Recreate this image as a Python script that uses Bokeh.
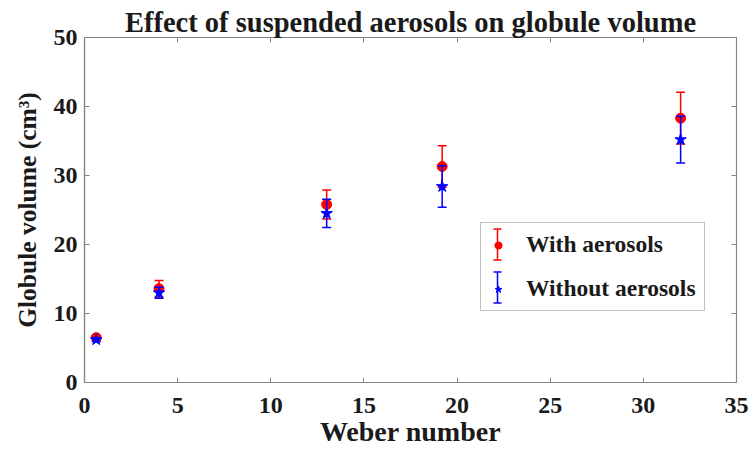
from bokeh.plotting import figure
from bokeh.models import (ColumnDataSource, Whisker, TeeHead, Legend, LegendItem, LinearAxis,
                          SingleIntervalTicker, Range1d, Arrow)
from bokeh.embed import file_html
from bokeh.resources import INLINE

# ---- data ----
weber = [0.63, 4.0, 13.0, 19.2, 32.0]
with_aerosols = [6.5, 13.6, 25.8, 31.3, 38.3]
with_err = [0.25, 1.2, 2.1, 3.0, 3.75]
without_aerosols = [6.2, 13.0, 24.5, 28.4, 35.2]
without_err = [0.25, 0.8, 2.05, 3.0, 3.4]
series_labels = ["With aerosols", "Without aerosols"]
title_text = "Effect of suspended aerosols on globule volume"
x_label = "Weber number"
y_label = "Globule volume (cm\u00b3)"

FONT = "Liberation Serif"
RED = "#ff0000"
BLUE = "#0000ff"
AXC = "#858585"
TXT = "#1a1a1a"

src_w = ColumnDataSource(dict(x=weber, y=with_aerosols,
                              lo=[v - e for v, e in zip(with_aerosols, with_err)],
                              hi=[v + e for v, e in zip(with_aerosols, with_err)]))
src_wo = ColumnDataSource(dict(x=weber, y=without_aerosols,
                               lo=[v - e for v, e in zip(without_aerosols, without_err)],
                               hi=[v + e for v, e in zip(without_aerosols, without_err)]))

p = figure(width=750, height=450, x_range=Range1d(0, 35), y_range=Range1d(0, 50),
           output_backend="svg", toolbar_location=None,
           min_border_left=84, min_border_right=14, min_border_top=37, min_border_bottom=68)
p.title.text = title_text
p.title.align = "center"
p.title.text_font = FONT
p.title.text_font_size = "28.5px"
p.title.text_font_style = "bold"
p.title.text_color = TXT
p.title.standoff = 0

p.xgrid.visible = False
p.ygrid.visible = False
p.outline_line_color = AXC
p.outline_line_width = 1.2
p.background_fill_color = "white"
p.border_fill_color = "white"

p.xaxis.ticker = SingleIntervalTicker(interval=5, num_minor_ticks=0)
p.yaxis.ticker = SingleIntervalTicker(interval=10, num_minor_ticks=0)
for ax in (p.xaxis[0], p.yaxis[0]):
    ax.axis_line_color = AXC
    ax.axis_line_width = 1.2
    ax.major_tick_line_color = AXC
    ax.major_tick_in = 5
    ax.major_tick_out = 0
    ax.minor_tick_line_color = None
    ax.major_label_text_font = FONT
    ax.major_label_text_font_size = "24px"
    ax.major_label_text_font_style = "bold"
    ax.major_label_text_color = TXT
    ax.axis_label_text_font = FONT
    ax.axis_label_text_font_style = "bold"
    ax.axis_label_text_color = TXT
p.xaxis.axis_label = x_label
p.yaxis.axis_label = y_label
p.xaxis.axis_label_text_font_size = "28px"
p.yaxis.axis_label_text_font_size = "25.5px"
p.xaxis.major_label_standoff = 15
p.xaxis.axis_label_standoff = 0
p.yaxis.major_label_standoff = 7
p.yaxis.axis_label_standoff = 9

# mirrored ticks on top and right
top_ax = LinearAxis(ticker=SingleIntervalTicker(interval=5, num_minor_ticks=0))
right_ax = LinearAxis(ticker=SingleIntervalTicker(interval=10, num_minor_ticks=0))
for ax in (top_ax, right_ax):
    ax.axis_line_color = AXC
    ax.major_tick_line_color = AXC
    ax.major_tick_in = 5
    ax.major_tick_out = 0
    ax.minor_tick_line_color = None
    ax.major_label_text_font_size = "0px"
    ax.major_label_text_color = None
    ax.major_label_standoff = 0
p.add_layout(top_ax, "above")
p.add_layout(right_ax, "right")

# error bars and markers (red first, blue on top)
wh_r = Whisker(base="x", lower="lo", upper="hi", source=src_w, dimension="height",
               line_color=RED, line_width=1.5, level="underlay",
               upper_head=TeeHead(size=9, line_color=RED, line_width=1.5),
               lower_head=TeeHead(size=9, line_color=RED, line_width=1.5))
p.add_layout(wh_r)
r_w = p.scatter("x", "y", source=src_w, marker="circle", size=10,
                fill_color=RED, line_color=RED, level="glyph")
wh_b = Whisker(base="x", lower="lo", upper="hi", source=src_wo, dimension="height",
               line_color=BLUE, line_width=1.5, level="annotation",
               upper_head=TeeHead(size=9, line_color=BLUE, line_width=1.5),
               lower_head=TeeHead(size=9, line_color=BLUE, line_width=1.5))
p.add_layout(wh_b)
r_wo = p.scatter("x", "y", source=src_wo, marker="star", size=12,
                 fill_color=BLUE, line_color=BLUE, level="overlay")

# vertical error-bar symbols for the legend (screen units, relative to the frame)
LEG_X = 413
p.add_layout(Arrow(x_start=LEG_X, y_start=138 - 15.5, x_end=LEG_X, y_end=138 + 15.5,
                   start_units="screen", end_units="screen",
                   line_color=RED, line_width=1.5, level="annotation",
                   start=TeeHead(size=8, line_color=RED, line_width=1.5),
                   end=TeeHead(size=8, line_color=RED, line_width=1.5)))
p.add_layout(Arrow(x_start=LEG_X, y_start=95 - 15.5, x_end=LEG_X, y_end=95 + 15.5,
                   start_units="screen", end_units="screen",
                   line_color=BLUE, line_width=1.5, level="annotation",
                   start=TeeHead(size=8, line_color=BLUE, line_width=1.5),
                   end=TeeHead(size=8, line_color=BLUE, line_width=1.5)))

legend = Legend(items=[LegendItem(label=series_labels[0], renderers=[r_w]),
                       LegendItem(label=series_labels[1], renderers=[r_wo])],
                location=(396, 71), orientation="vertical",
                glyph_width=18, glyph_height=26, label_height=26,
                label_standoff=19, padding=8, spacing=17, margin=0,
                label_text_font=FONT, label_text_font_size="23.5px",
                label_text_font_style="bold", label_text_color=TXT,
                border_line_color=AXC, border_line_width=1.2,
                background_fill_color="white", background_fill_alpha=0.0)
p.add_layout(legend)

open("out.html", "w").write(file_html(p, INLINE))
